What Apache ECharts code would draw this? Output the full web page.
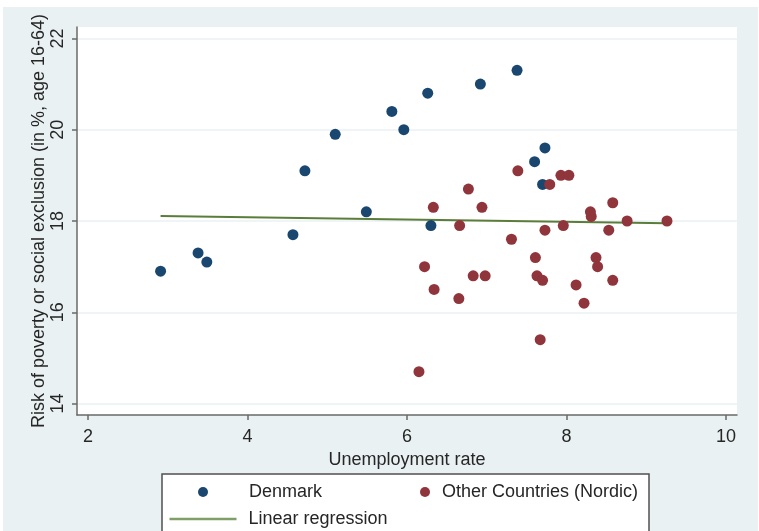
<!DOCTYPE html>
<html>
<head>
<meta charset="utf-8">
<title>Unemployment and risk of poverty</title>
<script src="https://cdn.jsdelivr.net/npm/echarts@6/dist/echarts.min.js"></script>
<style>
  html, body { margin: 0; padding: 0; background: #ffffff; }
  #chart { width: 759px; height: 531px; }
</style>
</head>
<body>
<div id="chart"></div>
<script>
// Denmark: unemployment rate (%) and risk of poverty or social exclusion (%)
const denmarkRate = [2.91, 3.38, 3.49, 4.57, 4.72, 5.10, 5.49, 5.81, 5.96, 6.26, 6.30, 6.92, 7.38, 7.60, 7.73, 7.70];
const denmarkRisk = [16.9, 17.3, 17.1, 17.7, 19.1, 19.9, 18.2, 20.4, 20.0, 20.8, 17.9, 21.0, 21.3, 19.3, 19.6, 18.8];

// Other Nordic countries
const nordicRate = [7.39, 6.77, 7.93, 8.03, 7.79, 6.33, 6.94, 8.30, 8.31, 8.58,
                    6.66, 7.96, 7.73, 8.53, 8.76, 9.26, 7.31, 6.22, 7.61, 8.37,
                    8.39, 6.83, 6.98, 7.63, 7.70, 8.58, 6.34, 8.12, 6.65, 8.22,
                    7.67, 6.15];
const nordicRisk = [19.1, 18.7, 19.0, 19.0, 18.8, 18.3, 18.3, 18.2, 18.1, 18.4,
                    17.9, 17.9, 17.8, 17.8, 18.0, 18.0, 17.6, 17.0, 17.2, 17.2,
                    17.0, 16.8, 16.8, 16.8, 16.7, 16.7, 16.5, 16.6, 16.3, 16.2,
                    15.4, 14.7];

// Fitted regression line, endpoints over the observed range
const regressionRate = [2.91, 9.26];
const regressionRisk = [18.11, 17.95];

const xTicks = [2, 4, 6, 8, 10];
const yTicks = [14, 16, 18, 20, 22];

const seriesNames = ['Denmark', 'Other Countries (Nordic)', 'Linear regression'];

const FONT = "'Liberation Sans', Arial, sans-serif";
const TEXT = '#262626';
const AXIS = '#6a6a6a';
const PANEL = '#e9f1f3';
const GRIDLINE = '#eaf1f3';
const NAVY = '#1a476f';
const MAROON = '#90353b';
const GREEN = '#5a7d3a';

const zip = (a, b) => a.map((v, i) => [v, b[i]]);

const chart = echarts.init(document.getElementById('chart'), null, { renderer: 'canvas' });

chart.setOption({
  animation: false,
  textStyle: { fontFamily: FONT },
  graphic: [
    {
      type: 'rect', z: -100, silent: true,
      shape: { x: 3, y: 7, width: 755, height: 524 },
      style: { fill: PANEL }
    },
    {
      type: 'rect', z: 1, silent: true,
      shape: { x: 162, y: 474, width: 487, height: 70 },
      style: { fill: '#ffffff', stroke: '#505050', lineWidth: 1.5 }
    }
  ],
  grid: {
    left: 77, top: 27, right: 759 - 737, bottom: 531 - 415,
    show: true, backgroundColor: '#ffffff', borderWidth: 0
  },
  xAxis: {
    type: 'value',
    min: 1.862, max: 10.138,
    name: 'Unemployment rate',
    nameLocation: 'middle',
    nameGap: 31,
    nameTextStyle: { fontSize: 18, color: TEXT, fontFamily: FONT },
    axisLine: { show: true, lineStyle: { color: AXIS, width: 1.5 } },
    axisTick: { show: true, customValues: xTicks, length: 5, inside: false, lineStyle: { color: AXIS, width: 1.5 } },
    axisLabel: { customValues: xTicks, fontSize: 18, color: TEXT, margin: 13, fontFamily: FONT },
    splitLine: { show: false }
  },
  yAxis: {
    type: 'value',
    min: 13.75, max: 22.25,
    name: 'Risk of poverty or social exclusion (in %, age 16-64)',
    nameLocation: 'middle',
    nameRotate: 90,
    nameGap: 29,
    nameMoveOverlap: false,
    nameTextStyle: { fontSize: 18, color: TEXT, fontFamily: FONT },
    axisLine: { show: true, lineStyle: { color: AXIS, width: 1.5 } },
    axisTick: { show: true, customValues: yTicks, length: 5, inside: false, lineStyle: { color: AXIS, width: 1.5 } },
    axisLabel: { customValues: yTicks, rotate: 90, fontSize: 18, color: TEXT, margin: 10, fontFamily: FONT },
    splitLine: { show: true, lineStyle: { color: GRIDLINE, width: 1.5 } }
  },
  legend: [
    {
      data: [{ name: seriesNames[0], icon: 'circle' }],
      left: 198, top: 483, padding: 0,
      itemWidth: 10, itemHeight: 10,
      selectedMode: false,
      textStyle: { fontSize: 18, color: TEXT, fontFamily: FONT, padding: [0, 0, 0, 36] }
    },
    {
      data: [{ name: seriesNames[1], icon: 'circle' }],
      left: 420, top: 483, padding: 0,
      itemWidth: 10, itemHeight: 10,
      selectedMode: false,
      textStyle: { fontSize: 18, color: TEXT, fontFamily: FONT, padding: [0, 0, 0, 7] }
    },
    {
      data: [{ name: seriesNames[2], icon: 'rect' }],
      left: 169.5, top: 510, padding: 0,
      itemWidth: 67, itemHeight: 2.5,
      selectedMode: false,
      itemStyle: { color: '#7f9e68' },
      textStyle: { fontSize: 18, color: TEXT, fontFamily: FONT, padding: [0, 0, 0, 7] }
    }
  ],
  series: [
    {
      name: seriesNames[0],
      type: 'scatter',
      symbol: 'circle',
      symbolSize: 11,
      itemStyle: { color: NAVY, opacity: 1 },
      data: zip(denmarkRate, denmarkRisk),
      z: 3
    },
    {
      name: seriesNames[1],
      type: 'scatter',
      symbol: 'circle',
      symbolSize: 11,
      itemStyle: { color: MAROON, opacity: 1 },
      data: zip(nordicRate, nordicRisk),
      z: 4
    },
    {
      name: seriesNames[2],
      type: 'line',
      symbol: 'none',
      showSymbol: false,
      lineStyle: { color: GREEN, width: 2 },
      itemStyle: { color: GREEN },
      data: zip(regressionRate, regressionRisk),
      z: 2
    }
  ]
});
</script>
</body>
</html>
